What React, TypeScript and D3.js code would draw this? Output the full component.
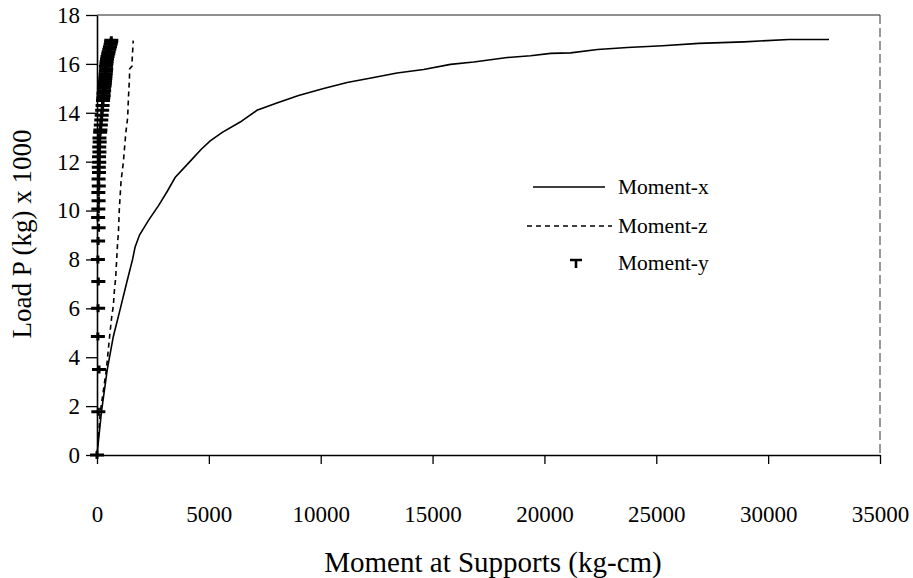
import React, { useEffect, useRef } from 'react';
import * as d3 from 'd3';

const xTicks = [0, 5000, 10000, 15000, 20000, 25000, 30000, 35000];
const yTicks = [0, 2, 4, 6, 8, 10, 12, 14, 16, 18];

// Moment-x (solid)
const loadX = [0, 1.77, 3.5, 4.85, 6.0, 7.1, 8.0, 8.5, 9.0, 9.6, 10.2, 10.8, 11.35, 12.0, 12.5, 12.85, 13.2, 13.62, 14.1, 14.4, 14.71, 14.99, 15.24, 15.44, 15.63, 15.77, 15.98, 16.08, 16.26, 16.33, 16.43, 16.45, 16.59, 16.67, 16.74, 16.84, 16.9, 17.0, 17.0];
const momentX = [0, 200, 460, 730, 1045, 1340, 1590, 1700, 1900, 2300, 2750, 3150, 3490, 4150, 4650, 5060, 5600, 6400, 7150, 8040, 9010, 10130, 11180, 12370, 13410, 14600, 15800, 16840, 18340, 19380, 20280, 21170, 22370, 23710, 25280, 26900, 28920, 30930, 32720];

// Moment-z (dashed)
const loadZ = [0, 1.77, 3.5, 4.3, 5.0, 5.67, 6.1, 6.7, 7.25, 8.0, 8.75, 9.04, 10.1, 11.2, 12.0, 13.15, 13.8, 14.5, 15.4, 15.8, 15.9, 16.15, 16.95];
const momentZ = [0, 150, 420, 505, 580, 660, 730, 775, 835, 880, 925, 955, 1000, 1075, 1180, 1285, 1370, 1400, 1450, 1460, 1560, 1570, 1620];

// Moment-y (markers)
const loadY = [0, 1.77, 3.5, 4.85, 6.0, 7.1, 8.0, 8.75, 9.3, 9.72, 10.06, 10.4, 10.74, 11.0, 11.29, 11.56, 11.77, 11.98, 12.2, 12.4, 12.6, 12.8, 12.97, 13.2, 13.3, 13.5, 13.7, 13.9, 14.1, 14.3, 14.5, 14.6, 14.7, 14.8, 14.9, 15.0, 15.1, 15.2, 15.3, 15.4, 15.5, 15.6, 15.7, 15.8, 15.9, 16.0, 16.1, 16.2, 16.3, 16.4, 16.5, 16.6, 16.7, 16.8, 16.9, 16.97];
const momentY = [0, 60, 90, 40, 50, 60, 40, 50, 70, 50, 60, 70, 60, 80, 70, 90, 80, 100, 90, 110, 100, 120, 110, 140, 150, 170, 190, 210, 230, 250, 270, 280, 300, 290, 320, 310, 340, 350, 360, 370, 380, 390, 400, 410, 400, 420, 430, 450, 470, 500, 520, 550, 580, 610, 630, 640];

const legendLabels = ['Moment-x', 'Moment-z', 'Moment-y'];

const FONT = '"Liberation Serif", "Times New Roman", serif';

export default function App() {
  const ref = useRef<SVGSVGElement>(null);

  useEffect(() => {
    const svg = d3.select(ref.current);
    svg.selectAll('*').remove();

    const x = d3.scaleLinear().domain([0, 35000]).range([97, 880]);
    const y = d3.scaleLinear().domain([0, 18]).range([455, 15]);

    // frame (top and right)
    svg.append('line').attr('x1', 97).attr('x2', 880).attr('y1', y(18)).attr('y2', y(18))
      .attr('stroke', '#222').attr('stroke-width', 1.2);
    svg.append('line').attr('x1', 880).attr('x2', 880).attr('y1', y(18)).attr('y2', y(0))
      .attr('stroke', '#333').attr('stroke-width', 1).attr('stroke-dasharray', '9,4');

    // x axis
    const gx = svg.append('g').attr('transform', `translate(0,${y(0)})`)
      .call(d3.axisBottom(x).tickValues(xTicks).tickSize(9).tickSizeOuter(0).tickPadding(42).tickFormat(d3.format('d')));
    gx.select('.domain').attr('stroke', '#000').attr('stroke-width', 1.5);
    gx.selectAll('.tick line').attr('stroke', '#000').attr('stroke-width', 1.3);
    gx.selectAll('text').attr('font-family', FONT).attr('font-size', 23).attr('fill', '#000');

    // y axis
    const gy = svg.append('g').attr('transform', `translate(${x(0)},0)`)
      .call(d3.axisLeft(y).tickValues(yTicks).tickSize(11).tickSizeOuter(0).tickPadding(6));
    gy.select('.domain').attr('stroke', '#000').attr('stroke-width', 1.6);
    gy.selectAll('.tick line').attr('stroke', '#000').attr('stroke-width', 1.3);
    gy.selectAll('text').attr('font-family', FONT).attr('font-size', 23).attr('fill', '#000');

    // axis titles
    svg.append('text').attr('x', 493).attr('y', 572).attr('text-anchor', 'middle')
      .attr('font-family', FONT).attr('font-size', 29).attr('fill', '#000')
      .text('Moment at Supports (kg-cm)');
    svg.append('text').attr('transform', `translate(31,234) rotate(-90)`).attr('text-anchor', 'middle')
      .attr('font-family', FONT).attr('font-size', 27).attr('fill', '#000')
      .text('Load P (kg) x 1000');

    // Moment-x
    const ptsX = momentX.map((m, i) => [x(m), y(loadX[i])] as [number, number]);
    svg.append('path').attr('d', d3.line()(ptsX)).attr('fill', 'none')
      .attr('stroke', '#000').attr('stroke-width', 1.6);

    // Moment-z
    const ptsZ = momentZ.map((m, i) => [x(m), y(loadZ[i])] as [number, number]);
    svg.append('path').attr('d', d3.line()(ptsZ)).attr('fill', 'none')
      .attr('stroke', '#000').attr('stroke-width', 1.6).attr('stroke-dasharray', '5,4');

    // Moment-y markers
    const plus = (cx: number, cy: number) => `M${cx - 7},${cy}H${cx + 7}M${cx},${cy - 4}V${cy + 4}`;
    const gm = svg.append('g');
    momentY.forEach((m, i) => {
      gm.append('path').attr('d', plus(x(m), y(loadY[i])))
        .attr('stroke', '#000').attr('stroke-width', 3).attr('fill', 'none');
    });

    // legend
    const lg = svg.append('g');
    const ly = [187, 226, 263];
    lg.append('line').attr('x1', 533).attr('x2', 605).attr('y1', ly[0]).attr('y2', ly[0])
      .attr('stroke', '#000').attr('stroke-width', 1.6);
    lg.append('line').attr('x1', 527).attr('x2', 612).attr('y1', ly[1]).attr('y2', ly[1])
      .attr('stroke', '#000').attr('stroke-width', 1.6).attr('stroke-dasharray', '5,4');
    lg.append('path').attr('d', `M${570},${ly[2] - 3}H${582}M${576},${ly[2] - 3}V${ly[2] + 5}`)
      .attr('stroke', '#000').attr('stroke-width', 2.6).attr('fill', 'none');
    legendLabels.forEach((t, i) => {
      lg.append('text').attr('x', 618).attr('y', ly[i]).attr('dy', '0.33em')
        .attr('font-family', FONT).attr('font-size', 21.5).attr('fill', '#000').text(t);
    });
  }, []);

  return (
    <svg ref={ref} width={913} height={578}
      style={{ position: 'absolute', left: 0, top: 0, background: '#fff' }} />
  );
}
